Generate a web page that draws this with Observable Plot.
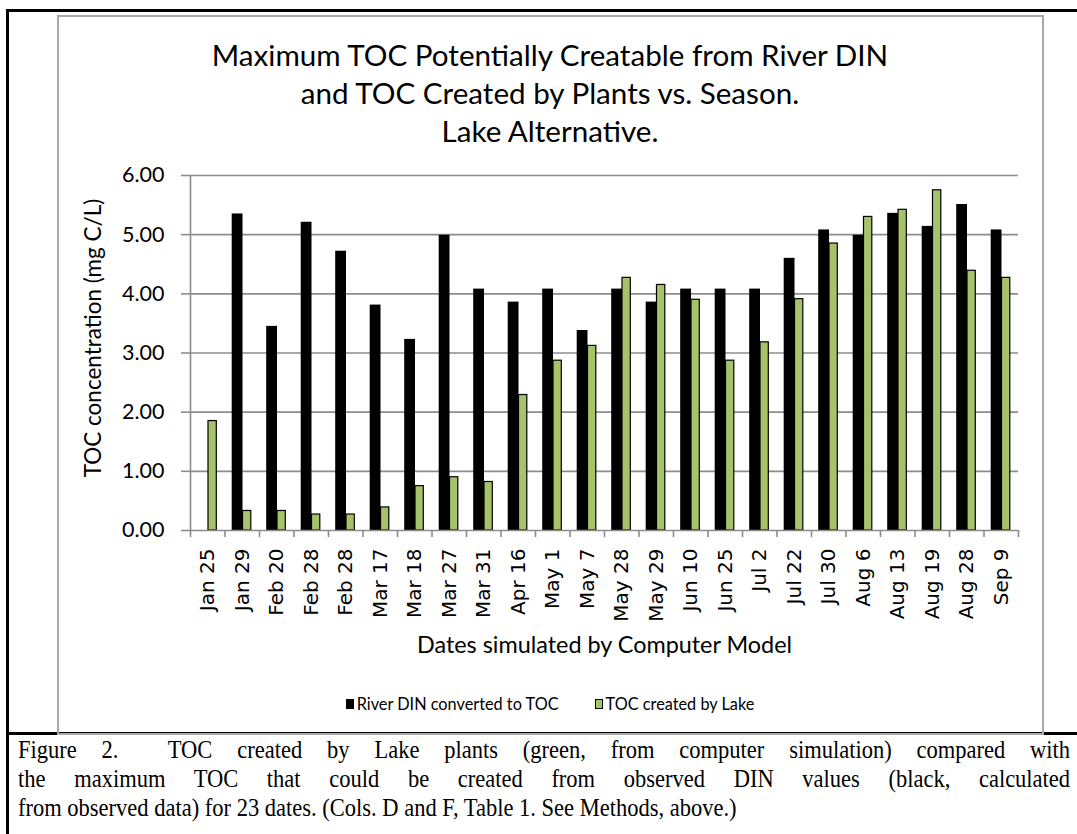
<!DOCTYPE html>
<html>
<head>
<meta charset="utf-8">
<script src="https://cdn.jsdelivr.net/npm/d3@7"></script>
<script src="https://cdn.jsdelivr.net/npm/@observablehq/plot@0.6"></script>
<style>
  html, body { margin: 0; padding: 0; background: #fff; }
  #page { position: relative; width: 1077px; height: 834px; overflow: hidden; background: #fff; }
  .blk { position: absolute; background: #000; }
  #box { position: absolute; left: 57px; top: 15px; width: 983px; height: 716px; border: 2px solid #a9a9a9; box-sizing: content-box; }
  #title { position: absolute; left: 58px; width: 984px; top: 36px; text-align: center; font-family: Lato, sans-serif; font-size: 29.6px; line-height: 38px; color: #000; }
  #chart { position: absolute; left: 0; top: 150px; }
  #legend { position: absolute; left: 58px; width: 984px; top: 694px; display: flex; justify-content: center; align-items: center; font-family: Lato, sans-serif; font-size: 16.3px; color: #000; }
  .sw { display: inline-block; width: 8px; height: 10px; margin-right: 3px; box-sizing: border-box; }
  .item { display: flex; align-items: center; margin: 0 18px; }
  #caption { position: absolute; left: 18px; width: 1169px; top: 735px; transform: scaleX(0.9); transform-origin: 0 0; font-family: "Liberation Serif", "Times New Roman", serif; font-size: 25px; line-height: 29px; color: #000; }
  #caption div { white-space: nowrap; }
  #caption .j { white-space: normal; text-align: justify; text-align-last: justify; }
</style>
</head>
<body>
<div id="page">
  <div class="blk" style="left:6px; top:9px; width:1071px; height:3px;"></div>
  <div class="blk" style="left:6px; top:9px; width:3px; height:825px;"></div>
  <div class="blk" style="left:6px; top:732px; width:1071px; height:3px;"></div>
  <div id="box"></div>
  <div id="title"></div>
  <div id="chart"></div>
  <div id="legend"></div>
  <div id="caption"></div>
</div>
<script>
const titleLines = ["Maximum TOC Potentially Creatable from River DIN", "and TOC Created by Plants vs. Season.", "Lake Alternative."];
const dates = ["Jan 25","Jan 29","Feb 20","Feb 28","Feb 28","Mar 17","Mar 18","Mar 27","Mar 31","Apr 16","May 1","May 7","May 28","May 29","Jun 10","Jun 25","Jul 2","Jul 22","Jul 30","Aug 6","Aug 13","Aug 19","Aug 28","Sep 9"];
const riverDIN = [0, 5.35, 3.45, 5.21, 4.72, 3.81, 3.23, 4.99, 4.08, 3.86, 4.08, 3.38, 4.08, 3.86, 4.08, 4.08, 4.08, 4.60, 5.08, 4.99, 5.36, 5.14, 5.51, 5.08];
const tocLake = [1.85, 0.33, 0.33, 0.27, 0.27, 0.39, 0.75, 0.90, 0.82, 2.29, 2.87, 3.12, 4.27, 4.15, 3.90, 2.87, 3.18, 3.91, 4.85, 5.30, 5.42, 5.75, 4.39, 4.27];
const yTicks = [0, 1, 2, 3, 4, 5, 6];
const seriesNames = ["River DIN converted to TOC", "TOC created by Lake"];
const seriesColors = ["#000000", "#a5c36a"];
const yTitle = "TOC concentration (mg C/L)";
const xTitle = "Dates simulated by Computer Model";
const captionLines = [
  "Figure 2.\u00a0 TOC created by Lake plants (green, from computer simulation) compared with",
  "the maximum TOC that could be created from observed DIN values (black, calculated",
  "from observed data) for 23 dates. (Cols. D and F, Table 1. See Methods, above.)"
];
</script>
<script>
const idx = d3.range(dates.length);
const rows = idx.map(i => ({i, date: dates[i], river: riverDIN[i], lake: tocLake[i]}));
const n = idx.length;
const plotLeft = 190, plotRight = 1018;
const bw = (plotRight - plotLeft) / n;

document.getElementById("title").innerHTML = titleLines.map(t => `<div>${t}</div>`).join("");

const grid = "#8c8c8c";
const plot = Plot.plot({
  width: 1077,
  height: 520,
  marginLeft: plotLeft,
  marginRight: 1077 - plotRight,
  marginTop: 25,
  marginBottom: 140,
  style: {background: "transparent", color: "#000", overflow: "visible"},
  x: {type: "band", domain: idx, padding: 0, round: false},
  y: {domain: [0, 6]},
  marks: [
    Plot.ruleY(yTicks.slice(1), {y: d => d, stroke: grid, strokeWidth: 1.6}),
    Plot.barY(rows, {x: "i", y: "river", fill: seriesColors[0], insetLeft: 7.2, insetRight: bw - 18}),
    Plot.barY(rows, {x: "i", y: "lake", fill: seriesColors[1], stroke: "#000", strokeWidth: 1.2, insetLeft: 18, insetRight: bw - 26.3}),
    Plot.ruleY([0], {y: d => d, stroke: grid, strokeWidth: 1.6}),
    Plot.ruleX([0], {x: d => d, dx: -bw / 2, y1: 0, y2: 6, stroke: grid, strokeWidth: 1.6}),
    Plot.ruleX(idx, {x: d => d, dx: -bw / 2, y1: 0, y2: -0.12, stroke: grid, strokeWidth: 1.6}),
    Plot.ruleX([n - 1], {x: d => d, dx: bw / 2, y1: 0, y2: -0.12, stroke: grid, strokeWidth: 1.6}),
    Plot.axisY({ticks: yTicks, tickFormat: d => d.toFixed(2), tickSize: 9, tickPadding: 17, stroke: grid, strokeWidth: 1.6, fontSize: 21.5, fontFamily: "Lato", label: null}),
    Plot.axisX({tickSize: 0, tickPadding: 18, tickRotate: -90, tickFormat: i => dates[i], fontSize: 20, fontFamily: "DejaVu Sans", label: null}),
    Plot.text([yTitle], {frameAnchor: "left", textAnchor: "middle", dx: -97, dy: -15, rotate: -90, fontSize: 22.5, fontFamily: "Lato", fill: "#000"}),
    Plot.text([xTitle], {frameAnchor: "bottom", dy: 122, fontSize: 23.4, fontFamily: "Lato", fill: "#000"})
  ]
});
document.getElementById("chart").appendChild(plot);

document.getElementById("legend").innerHTML = seriesNames.map((s, k) =>
  `<span class="item"><span class="sw" style="background:${seriesColors[k]};${k ? 'border:1px solid #000;' : ''}"></span>${s}</span>`).join("");

document.getElementById("caption").innerHTML = captionLines.map((t, k) =>
  `<div class="${k < captionLines.length - 1 ? 'j' : ''}">${t}</div>`).join("");
</script>
</body>
</html>
